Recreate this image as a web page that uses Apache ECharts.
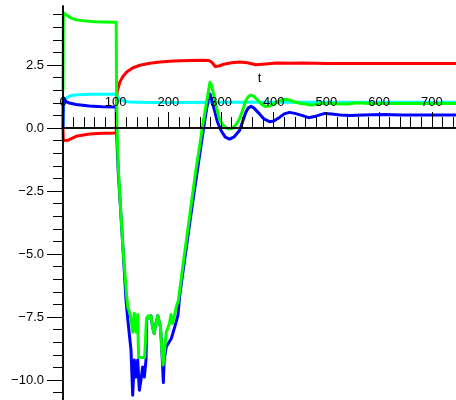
<!DOCTYPE html>
<html>
<head>
<meta charset="utf-8">
<script src="https://cdn.jsdelivr.net/npm/echarts@6/dist/echarts.min.js"></script>
<style>
  html, body { margin: 0; padding: 0; background: #fff; }
  #chart { width: 456px; height: 400px; }
</style>
</head>
<body>
<div id="chart"></div>
<script>
// Time samples and values for each response curve
const redT = [0, 0.5, 3, 9, 25, 50, 75, 101, 101.5, 103, 108, 114, 121, 132, 146, 165, 184, 210, 240, 265, 277, 283, 289, 296, 305, 320, 336, 350, 366, 385, 406, 430, 456, 500, 550, 600, 650, 700, 746];
const redV = [0, -0.5, -0.55, -0.49, -0.33, -0.24, -0.21, -0.2, 1.1, 1.45, 1.83, 2.05, 2.22, 2.38, 2.49, 2.57, 2.62, 2.66, 2.68, 2.69, 2.68, 2.6, 2.44, 2.46, 2.53, 2.59, 2.62, 2.59, 2.51, 2.54, 2.58, 2.57, 2.58, 2.56, 2.56, 2.56, 2.56, 2.56, 2.56];

const cyanT = [0, 0.5, 3, 6, 12, 18, 30, 50, 75, 101, 104, 110, 118, 126, 140, 170, 220, 300, 400, 500, 600, 746];
const cyanV = [0, 1.0, 1.15, 1.2, 1.26, 1.3, 1.32, 1.34, 1.34, 1.34, 1.2, 1.1, 1.06, 1.03, 1.02, 1.01, 1.01, 1.02, 1.02, 1.02, 1.02, 1.02];

const blueT = [0, 0.5, 2, 6, 12, 25, 50, 75, 101, 102, 105, 109.5, 114.5, 119.6, 123, 126.5, 129.1, 132.3, 135.4, 138.6, 141.8, 144.9, 148, 151.2, 154.4, 157.6, 159, 162, 164, 167, 170, 173, 176, 180, 183, 185, 187.5, 190.5, 192, 196, 205.6, 212, 218.3, 221.6, 243, 262, 271.5, 276, 279, 282, 287, 293, 300, 308, 316, 325, 335, 341, 347, 352, 357, 363, 373, 382, 392, 400, 411, 420, 430, 440, 455, 466, 480, 497, 510, 526, 545, 570, 608, 640, 700, 746];
const blueV = [0, 1.2, 1.15, 1.05, 0.99, 0.93, 0.87, 0.84, 0.83, -0.3, -1.8, -3.3, -5.0, -6.83, -7.6, -8.3, -8.81, -10.6, -9.2, -9.88, -9.2, -10.4, -10.0, -9.48, -9.88, -9.2, -7.6, -7.5, -7.55, -7.45, -7.9, -8.15, -7.8, -7.45, -7.4, -7.9, -8.7, -10.1, -9.2, -8.68, -8.35, -7.9, -7.42, -6.63, -3.4, -0.7, 0.62, 1.15, 1.35, 1.3, 0.75, 0.25, -0.1, -0.36, -0.44, -0.35, -0.1, 0.25, 0.62, 0.8, 0.86, 0.78, 0.56, 0.35, 0.25, 0.28, 0.42, 0.56, 0.62, 0.58, 0.49, 0.41, 0.47, 0.58, 0.56, 0.52, 0.5, 0.52, 0.54, 0.52, 0.52, 0.52];

const greenT = [0, 0.6, 3, 8, 15, 25, 40, 60, 80, 101, 101.5, 102.5, 105, 109.5, 114.5, 118, 121, 123, 127, 129.5, 132.3, 135.4, 138.6, 141.8, 143.5, 150, 155, 157.5, 158.5, 162, 164, 167, 170, 173, 176, 180, 183, 185, 187, 190, 192, 196, 202, 205, 208, 211, 215, 219, 230, 241, 252, 259, 265, 271.5, 276, 279, 282, 287, 292, 297, 304, 310, 316, 322, 329, 335, 341, 347, 352, 357, 363, 370, 378, 385, 394, 404, 414, 423, 432, 442, 452, 461, 469, 480, 490, 501, 520, 540, 558, 580, 610, 650, 700, 746];
const greenV = [1.5, 4.45, 4.55, 4.46, 4.37, 4.29, 4.25, 4.22, 4.21, 4.2, 2.0, 0.0, -1.6, -3.27, -4.97, -5.9, -6.7, -7.1, -7.35, -7.6, -8.1, -7.35, -8.1, -7.4, -9.1, -9.1, -9.1, -9.1, -7.55, -7.45, -7.55, -7.45, -7.9, -8.15, -7.8, -7.45, -7.4, -7.9, -8.6, -9.4, -9.0, -8.1, -7.76, -7.4, -7.75, -7.5, -7.1, -6.84, -5.1, -3.4, -1.7, -0.77, 0.1, 0.89, 1.45, 1.81, 1.7, 1.22, 0.75, 0.36, 0.1, 0.0, -0.04, 0.0, 0.15, 0.36, 0.7, 1.09, 1.25, 1.31, 1.25, 1.09, 0.92, 0.85, 0.88, 1.0, 1.1, 1.14, 1.1, 1.02, 0.97, 0.95, 0.91, 0.93, 0.97, 0.98, 0.96, 0.95, 1.0, 0.97, 0.97, 0.97, 0.97, 0.97];

// Axis tick positions
const xLabelTicks = [0, 100, 200, 300, 400, 500, 600, 700];
const xMajorTicks = [100, 200, 300, 400, 500, 600, 700];
const xMinorTicks = [];
for (let t = 20; t < 746; t += 20) if (t % 100 !== 0) xMinorTicks.push(t);
const yMajorTicks = [-10, -7.5, -5, -2.5, 0, 2.5];
const yMinorTicks = [];
for (let k = -21; k <= 9; k++) { const v = k / 2; if (!yMajorTicks.includes(v)) yMinorTicks.push(v); }

const X_MIN = 0, X_MAX = 746, Y_MIN = -10.79, Y_MAX = 4.84;
const GRID_TOP = 6, GRID_BOTTOM = 0, HEIGHT = 400;

// The t axis crosses the vertical axis at zero: shift it up from the grid bottom
const plotH = HEIGHT - GRID_TOP - GRID_BOTTOM;
const zeroY = GRID_TOP + plotH * Y_MAX / (Y_MAX - Y_MIN);
const xShift = -(HEIGHT - GRID_BOTTOM - zeroY);

const pairs = (ts, vs) => ts.map((t, i) => [t, vs[i]]);

const FONT = '"Liberation Sans", Arial, sans-serif';
const black = '#000';

function xAxisDef(ticks, len, withLabels) {
  return {
    type: 'value', position: 'bottom', offset: xShift, min: X_MIN, max: X_MAX, z: 5,
    axisLine: { show: true, onZero: false, lineStyle: { color: black, width: 1.5 } },
    axisTick: { show: true, inside: true, length: len, customValues: ticks, lineStyle: { color: black, width: 1 } },
    axisLabel: withLabels
      ? { show: true, inside: true, margin: 19, customValues: xLabelTicks, color: black, fontSize: 13, fontFamily: FONT }
      : { show: false, customValues: ticks },
    splitLine: { show: false },
    name: withLabels ? 't' : '',
    nameLocation: 'middle', nameGap: -56, nameMoveOverlap: false,
    nameTextStyle: { color: black, fontSize: 13, fontFamily: FONT }
  };
}
function yAxisDef(ticks, len, withLabels) {
  return {
    type: 'value', position: 'left', min: Y_MIN, max: Y_MAX, z: 5,
    axisLine: { show: true, onZero: false, lineStyle: { color: black, width: 1.5 } },
    axisTick: { show: true, inside: false, length: len, customValues: ticks, lineStyle: { color: black, width: 1 } },
    axisLabel: withLabels
      ? { show: true, margin: 19, customValues: yMajorTicks, color: black, fontSize: 13, fontFamily: FONT,
          formatter: v => (v < 0 ? '\u2212' : '') + Math.abs(v).toFixed(1) }
      : { show: false, customValues: ticks },
    splitLine: { show: false }
  };
}

const lineSeries = (name, color, ts, vs) => ({
  name, type: 'line', xAxisIndex: 0, yAxisIndex: 0, showSymbol: false, symbol: 'none',
  lineStyle: { color, width: 3, join: 'round', cap: 'round' }, data: pairs(ts, vs)
});

const chart = echarts.init(document.getElementById('chart'), null, { renderer: 'canvas' });
chart.setOption({
  animation: false,
  backgroundColor: '#fff',
  grid: { left: 63, right: 0, top: GRID_TOP, bottom: GRID_BOTTOM, containLabel: false, outerBoundsMode: 'none' },
  xAxis: [xAxisDef(xMajorTicks, 16, true), xAxisDef(xMinorTicks, 11, false)],
  yAxis: [yAxisDef(yMajorTicks, 16, true), yAxisDef(yMinorTicks, 10, false)],
  series: [
    lineSeries('red', '#ff0000', redT, redV),
    lineSeries('cyan', '#00ffff', cyanT, cyanV),
    lineSeries('blue', '#0000ff', blueT, blueV),
    lineSeries('green', '#00ff00', greenT, greenV)
  ]
});
</script>
</body>
</html>
